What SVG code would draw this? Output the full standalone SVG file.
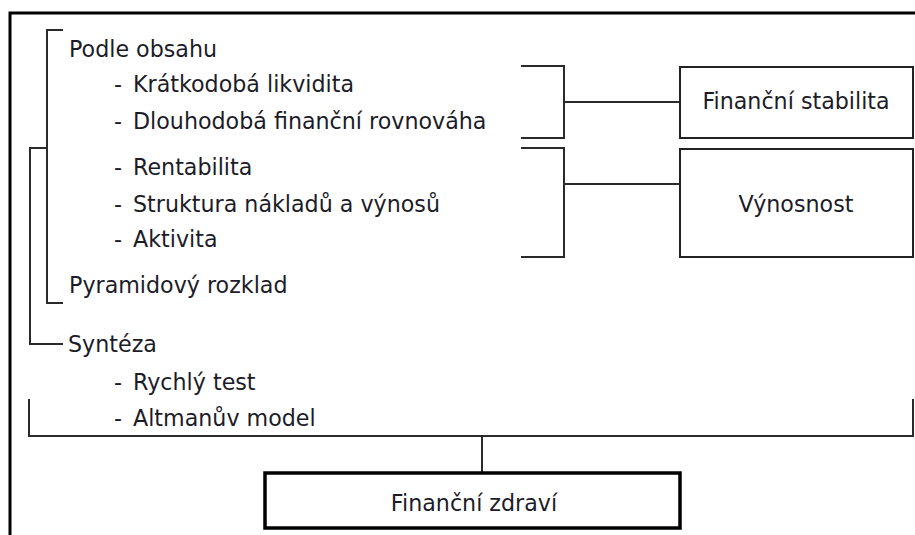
<svg xmlns="http://www.w3.org/2000/svg" width="915" height="535" viewBox="0 0 915 535">
<style>
.t{font-family:"DejaVu Sans","Open Sans",sans-serif;font-size:22.2px;fill:#1c1c28}
.c{text-anchor:middle}
.ln{fill:none;stroke:#2a2a2a;stroke-width:2}
.box{fill:#fff;stroke:#222;stroke-width:2}
.bold{fill:#fff;stroke:#000;stroke-width:3.5}
</style>
<rect width="915" height="535" fill="#fff"/>
<path d="M10,537 V13 H917" fill="none" stroke="#000" stroke-width="3"/>
<g id="connectors">
<path class="ln" d="M63,30 H47 V303 H63"/>
<path class="ln" d="M47,148 H30 V344 H63"/>
<path class="ln" d="M29,399 V436 H913 V399"/>
<path class="ln" d="M482,436 V473"/>
<path class="ln" d="M521,66 H564 V138 H521 M564,102 H680"/>
<path class="ln" d="M521,148 H564 V257 H521 M564,184 H680"/>
</g>
<g id="list">
<text class="t" x="69" y="57">Podle obsahu</text>
<text class="t"><tspan x="114" y="92">-</tspan><tspan x="133">Krátkodobá likvidita</tspan></text>
<text class="t"><tspan x="114" y="129">-</tspan><tspan x="133">Dlouhodobá finanční rovnováha</tspan></text>
<text class="t"><tspan x="114" y="175">-</tspan><tspan x="133">Rentabilita</tspan></text>
<text class="t"><tspan x="114" y="212">-</tspan><tspan x="133">Struktura nákladů a výnosů</tspan></text>
<text class="t"><tspan x="114" y="247">-</tspan><tspan x="133">Aktivita</tspan></text>
<text class="t" x="69" y="293">Pyramidový rozklad</text>
<text class="t" x="68" y="352">Syntéza</text>
<text class="t"><tspan x="114" y="390">-</tspan><tspan x="133">Rychlý test</tspan></text>
<text class="t"><tspan x="114" y="426">-</tspan><tspan x="133">Altmanův model</tspan></text>
</g>
<g id="financni-stabilita">
<rect class="box" x="680" y="67" width="233" height="71"/>
<text class="t c" x="796" y="109">Finanční stabilita</text>
</g>
<g id="vynosnost">
<rect class="box" x="680" y="149" width="233" height="108"/>
<text class="t c" x="796" y="212">Výnosnost</text>
</g>
<g id="financni-zdravi">
<rect class="bold" x="265" y="473" width="415" height="55"/>
<text class="t c" x="474" y="511">Finanční zdraví</text>
</g>
</svg>
